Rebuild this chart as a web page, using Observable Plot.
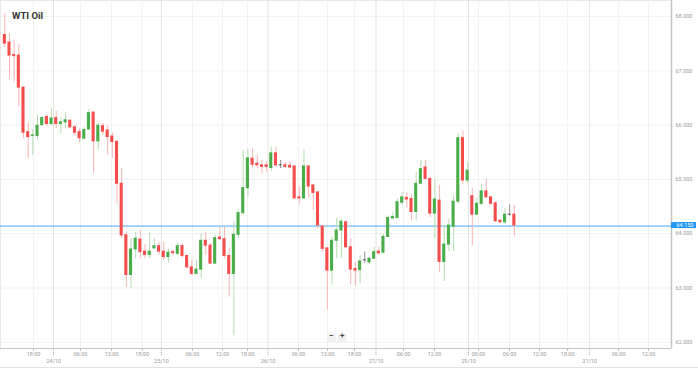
<!DOCTYPE html>
<html>
<head>
<meta charset="utf-8">
<script src="https://cdn.jsdelivr.net/npm/d3@7"></script>
<script src="https://cdn.jsdelivr.net/npm/@observablehq/plot@0.6"></script>
<style>
  body { margin: 0; background: #fff; }
  #chart { position: relative; width: 698px; height: 368px; overflow: hidden; }
  #chart svg { display: block; }
  #edge { position: absolute; left: 0; right: 0; bottom: 0; height: 1px; background: #e2e2e2; }
</style>
</head>
<body>
<div id="chart"><div id="edge"></div></div>
<script>
// ---- data ----
const open = [67.66,67.52,67.29,67.28,66.69,65.87,65.80,65.80,66.00,66.15,
  66.02,66.13,66.02,66.05,66.08,65.96,65.87,65.75,65.92,66.23,
  65.70,65.98,65.90,65.79,65.69,64.92,63.97,63.24,63.71,63.89,
  63.67,63.61,63.73,63.77,63.67,63.57,63.66,63.63,63.77,63.59,
  63.38,63.26,63.34,63.87,63.78,63.45,63.93,63.90,63.59,63.26,
  63.98,64.38,64.84,65.38,65.29,65.26,65.26,65.21,65.48,65.26,
  65.26,65.25,65.24,64.67,64.65,65.24,64.89,64.76,64.13,63.73,
  63.32,63.87,64.06,64.21,63.75,63.35,63.33,63.51,63.47,63.54,
  63.67,63.65,63.94,64.28,64.29,64.57,64.66,64.64,64.40,64.92,
  65.22,65.01,64.37,64.61,63.48,63.80,64.13,64.59,65.76,64.98,
  64.69,64.35,64.55,64.78,64.67,64.56,64.24,64.21,64.35,64.35];
const high = [68.05,67.68,67.56,67.48,66.70,66.05,65.92,66.18,66.15,66.19,
  66.31,66.25,66.15,66.23,66.10,66.00,65.93,65.96,66.29,66.25,
  66.03,66.03,65.99,65.86,65.72,65.20,64.03,63.91,64.03,64.06,
  63.81,64.02,63.92,63.84,63.84,63.72,63.70,63.83,63.81,63.60,
  63.51,63.51,64.00,64.03,63.82,63.97,64.12,64.12,63.73,64.21,
  64.44,65.53,65.55,65.56,65.44,65.35,65.33,65.59,65.59,65.35,
  65.31,65.33,65.24,64.86,65.55,65.25,64.90,64.78,64.15,63.73,
  63.94,64.29,64.27,64.24,63.91,63.47,63.60,63.66,63.57,63.75,
  63.75,63.99,64.33,64.39,64.64,64.76,64.75,64.73,65.13,65.35,
  65.35,65.01,64.98,64.89,64.15,64.27,64.70,65.84,65.90,65.31,
  64.83,64.66,64.90,65.00,64.69,64.58,64.26,64.47,64.53,64.52];
const low = [67.43,66.85,66.79,66.33,65.75,65.38,65.44,65.73,65.98,65.98,
  65.99,65.94,65.84,65.93,65.93,65.80,65.67,65.73,65.90,65.11,
  65.55,65.81,65.44,65.38,64.55,63.91,63.01,62.99,63.54,63.54,
  63.54,63.54,63.71,63.60,63.51,63.46,63.60,63.60,63.55,63.35,
  63.23,63.23,63.18,63.60,63.43,63.43,63.87,63.54,62.83,62.12,
  63.91,64.34,64.67,65.21,65.20,65.10,65.13,65.15,65.22,65.20,
  65.20,65.20,64.64,64.53,64.64,64.65,64.43,64.09,63.66,62.59,
  63.06,63.54,63.55,63.73,63.06,63.03,63.08,63.46,63.43,63.53,
  63.60,63.63,63.93,64.27,64.27,64.52,64.47,64.24,64.24,64.90,
  64.99,64.30,63.91,63.29,63.12,63.67,63.67,64.55,64.90,64.92,
  63.78,64.34,64.53,64.65,64.53,64.21,64.20,64.18,64.32,63.94];
const close = [67.50,67.28,67.27,66.69,65.86,65.78,65.81,65.99,66.13,66.02,
  66.12,66.02,66.05,66.09,65.96,65.86,65.76,65.91,66.22,65.70,
  65.99,65.88,65.78,65.69,64.92,63.97,63.24,63.71,63.91,63.66,
  63.61,63.67,63.77,63.67,63.57,63.65,63.64,63.77,63.59,63.38,
  63.26,63.34,63.87,63.78,63.45,63.92,63.90,63.59,63.26,63.98,
  64.38,64.84,65.39,65.27,65.26,65.23,65.23,65.48,65.26,65.26,
  65.23,65.22,64.65,64.65,65.24,64.87,64.75,64.15,63.72,63.32,
  63.87,64.06,64.22,63.75,63.34,63.32,63.49,63.51,63.54,63.66,
  63.64,63.94,64.29,64.31,64.58,64.67,64.63,64.40,64.92,65.19,
  65.01,64.37,64.63,63.48,63.80,64.15,64.59,65.76,64.98,65.16,
  64.35,64.55,64.78,64.67,64.55,64.23,64.21,64.35,64.35,64.15];

const lastPrice = 64.15;
const yTicks = [62, 63, 64, 65, 66, 67, 68];
// tick positions in candle-index units
const hourTicks = [6.14,16.19,22.82,29.39,40.15,46.57,51.91,62.82,69.03,74.8,85.28,91.91,101.33,107.95,114.37,120.4,131.3,137.69];
const hourLabels = ["18:00","06:00","12:00","18:00","06:00","12:00","18:00","06:00","12:00","18:00","06:00","12:00","00:00","06:00","12:00","18:00","06:00","12:00"];
const dayTicks = [10.42,33.5,56.3,79.4,99.19,125.1];
const dayLabels = ["24/10","25/10","26/10","27/10","29/10","31/10"];

// ---- build ----
const candles = open.map((o, i) => ({
  i, open: o, high: high[i], low: low[i], close: close[i],
  dir: close[i] > o ? "up" : close[i] < o ? "down" : "flat"
}));
const bodyColor = {up: "#49ad48", down: "#f54c4c", flat: "#555555"};
const wickColor = {up: "#b5dcb1", down: "#f9b5b5", flat: "#8a8a8a"};

const xDomain = [-0.92, 142.61];
const yDomain = [61.886, 68.295];
const pxPerIdx = 4.675, pxPerUnit = 54.3;
const fmt = d3.format(".3f");
const axisGray = "#9a9a9a";

const chart = Plot.plot({
  width: 698, height: 368,
  marginLeft: 0, marginRight: 27, marginTop: 0, marginBottom: 20,
  x: {domain: xDomain, axis: null},
  y: {domain: yDomain, axis: null},
  color: {type: "identity"},
  style: {fontFamily: "Roboto, 'Open Sans', sans-serif", background: "#fff", overflow: "visible"},
  marks: [
    Plot.frame({stroke: "#e8e8e8"}),
    Plot.ruleY(yTicks, {stroke: "#f2f2f2"}),
    Plot.ruleX(hourTicks, {stroke: "#f2f2f2"}),
    Plot.ruleX(dayTicks, {stroke: "#e3e3e3"}),
    Plot.ruleY([lastPrice], {stroke: "#4aa8f2", strokeWidth: 1, dy: 0.5}),
    Plot.ruleX(candles, {x: "i", y1: "low", y2: "high", stroke: d => wickColor[d.dir], strokeWidth: 1}),
    Plot.rect(candles, {
      x1: d => d.i - 0.33, x2: d => d.i + 0.33,
      y1: d => Math.min(d.open, d.close), y2: d => Math.max(d.open, d.close),
      fill: d => bodyColor[d.dir], insetTop: -0.5, insetBottom: -0.5
    }),
    // axes lines
    Plot.ruleY([yDomain[0]], {stroke: "#c4c4c4"}),
    Plot.ruleX([xDomain[1]], {stroke: "#c4c4c4", strokeWidth: 1.5}),
    // y labels
    Plot.text(yTicks, {y: d => d, frameAnchor: "right", dx: 4, textAnchor: "start", text: d => fmt(d), fontSize: 5.5, fill: axisGray}),
    // last price tag
    Plot.rect([lastPrice], {x1: xDomain[1], x2: xDomain[1] + 25 / pxPerIdx, y1: d => d - 3 / pxPerUnit, y2: d => d + 3 / pxPerUnit, fill: "#2196f3"}),
    Plot.text([lastPrice], {y: d => d, frameAnchor: "right", dx: 5, textAnchor: "start", text: d => fmt(d), fontSize: 5.5, fill: "#fff"}),
    // x ticks and labels
    Plot.ruleX(hourTicks, {y1: yDomain[0], y2: yDomain[0] - 3 / pxPerUnit, stroke: "#bbb"}),
    Plot.ruleX(dayTicks, {y1: yDomain[0], y2: yDomain[0] - 7 / pxPerUnit, stroke: "#aaa", strokeDasharray: "1,1"}),
    Plot.text(hourTicks, {x: d => d, frameAnchor: "bottom", dy: 7.5, text: (d, i) => hourLabels[i], fontSize: 5.5, fill: axisGray}),
    Plot.text(dayTicks, {x: d => d, frameAnchor: "bottom", dy: 14, text: (d, i) => dayLabels[i], fontSize: 5.5, fill: axisGray}),
    // title
    Plot.text(["WTI Oil"], {frameAnchor: "top-left", dx: 11.5, dy: 12, textAnchor: "start", text: d => d, fontWeight: "bold", fontSize: 9.5, fill: "#333"}),
    // zoom buttons
    Plot.dot([0], {frameAnchor: "bottom", dx: -4.7, dy: -10.5, symbol: "square", r: 5, fill: "#f0f0f0"}),
    Plot.dot([0], {frameAnchor: "bottom", dx: 6.2, dy: -10.5, symbol: "square", r: 5, fill: "#f0f0f0"}),
    Plot.text(["−"], {frameAnchor: "bottom", dx: -4.7, dy: -10.5, text: d => d, fontSize: 8, fontWeight: "bold", fill: "#444"}),
    Plot.text(["+"], {frameAnchor: "bottom", dx: 6.2, dy: -10.5, text: d => d, fontSize: 8, fontWeight: "bold", fill: "#444"})
  ]
});
document.getElementById("chart").prepend(chart);
</script>
</body>
</html>
